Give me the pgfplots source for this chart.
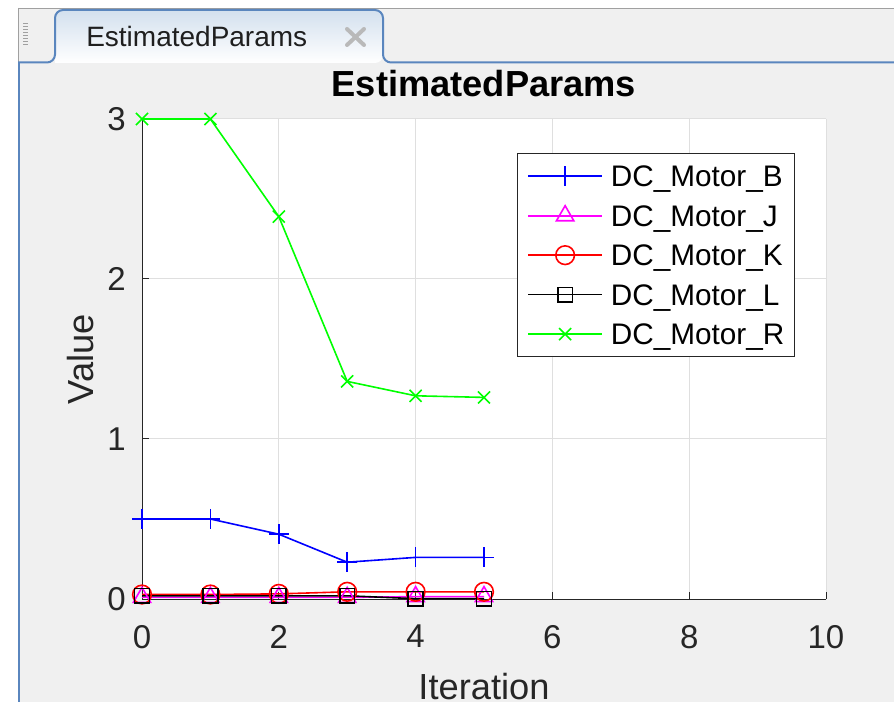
\documentclass[border=0pt]{standalone}
\usepackage{pgfplots}
\pgfplotsset{compat=1.18}
\usepackage{fontspec}
\setmainfont{Liberation Sans}
\definecolor{figbg}{HTML}{F0F0F0}
\definecolor{tabblue}{HTML}{5A86BE}
\definecolor{tabtop}{HTML}{D3E0EE}
\definecolor{axgray}{HTML}{262626}
\definecolor{gridc}{HTML}{DFDFDF}
\definecolor{framegray}{HTML}{A0A0A0}
\definecolor{mblue}{rgb}{0,0,1}
\definecolor{mmag}{rgb}{1,0,1}
\definecolor{mred}{rgb}{1,0,0}
\definecolor{mgreen}{rgb}{0,1,0}
\begin{document}
\begin{tikzpicture}
\clip (0,0) rectangle (670.5pt,-526.5pt);
\begin{scope}[x=0.75pt,y=-0.75pt]
\fill[white] (0,0) rectangle (894,702);
\fill[figbg] (18,8) rectangle (894,702);
\draw[framegray, line width=0.75pt] (18,8.5) -- (894,8.5);
\draw[framegray, line width=0.75pt] (18.5,8) -- (18.5,62);
\foreach \yy in {24,27,...,47} \draw[framegray, line width=0.75pt] (23,\yy) -- (28,\yy);
\shade[top color=tabtop, bottom color=white, rounded corners=6pt] (55,63) -- (55,10) -- (383,10) -- (383,63) [sharp corners] -- cycle;
\draw[tabblue, line width=1.5pt, rounded corners=6pt] (18,62.5) -- (55,62.5) -- (55,10) -- (383,10) -- (383,62.5) -- (894,62.5);
\draw[tabblue, line width=1.5pt] (18.5,62) -- (18.5,702);
\node[anchor=base west, inner sep=0pt, font=\fontsize{21}{25}\selectfont, text=black!88] at (86,47) {EstimatedParams};
\draw[gray!55, line width=3pt, line cap=round] (347,29) -- (364,45) (364,29) -- (347,45);
\end{scope}
\begin{axis}[
  at={(106.5pt,-449.25pt)}, anchor=south west,
  width=513pt, height=360pt, scale only axis,
  xmin=0, xmax=10, ymin=0, ymax=3,
  xtick={0,2,4,6,8,10}, ytick={0,1,2,3},
  axis background/.style={fill=white},
  grid=major, major grid style={gridc, line width=0.75pt},
  axis x line*=bottom, axis y line*=left,
  axis line style={axgray, line width=0.75pt},
  tick align=inside, major tick length=5pt,
  tick style={axgray, line width=0.75pt},
  /pgf/number format/assume math mode=true,
  ticklabel style={font=\fontsize{24.75}{29}\selectfont, text=axgray},
  xticklabel style={anchor=north, inner sep=0pt, yshift=-19.5pt},
  yticklabel style={anchor=east, inner sep=0pt, xshift=-12pt},
  title={EstimatedParams},
  title style={font=\bfseries\fontsize{27.2}{32}\selectfont, text=black, at={(axis description cs:0.5,1.0292)}, anchor=base, inner sep=0pt},
  xlabel={Iteration},
  xlabel style={font=\fontsize{27.2}{32}\selectfont, text=axgray, at={(axis description cs:0.5,-0.2104)}, anchor=base, inner sep=0pt},
  ylabel={Value},
  ylabel style={font=\fontsize{27.2}{32}\selectfont, text=axgray, at={(axis description cs:-0.0702,0.5)}, anchor=base, inner sep=0pt},
  legend style={at={(axis description cs:0.548,0.929)}, anchor=north west,
    draw=axgray, line width=0.75pt, fill=white,
    font=\fontsize{22.3}{26}\selectfont, text=black,
    inner xsep=7.5pt, inner ysep=9pt, row sep=13.6pt, column sep=6pt,
    nodes={inner sep=0pt, text height=16pt, text depth=0pt}},
  legend cell align=left,
  legend image code/.code={\draw[mark repeat=2,mark phase=2,#1] plot coordinates {(0pt,0pt) (27.75pt,0pt) (55.5pt,0pt)};},
]
\addplot[mblue, line width=1.2pt, mark=+, mark size=7.5pt, mark options={solid}] coordinates {(0,0.50) (1,0.50) (2,0.405) (3,0.23) (4,0.26) (5,0.26)};
\addlegendentry{DC\_Motor\_B}
\addplot[mmag, line width=1.2pt, mark=triangle, mark size=7.5pt] coordinates {(0,0.01) (1,0.01) (2,0.01) (3,0.01) (4,0.015) (5,0.015)};
\addlegendentry{DC\_Motor\_J}
\addplot[mred, line width=1.2pt, mark=o, mark size=7pt] coordinates {(0,0.028) (1,0.028) (2,0.032) (3,0.045) (4,0.045) (5,0.045)};
\addlegendentry{DC\_Motor\_K}
\addplot[black, line width=1.2pt, mark=square, mark size=5.5pt] coordinates {(0,0.02) (1,0.02) (2,0.02) (3,0.02) (4,0.002) (5,0.002)};
\addlegendentry{DC\_Motor\_L}
\addplot[mgreen, line width=1.2pt, mark=x, mark size=6.4pt] coordinates {(0,3.0) (1,3.0) (2,2.39) (3,1.36) (4,1.27) (5,1.26)};
\addlegendentry{DC\_Motor\_R}
\end{axis}
\end{tikzpicture}
\end{document}
